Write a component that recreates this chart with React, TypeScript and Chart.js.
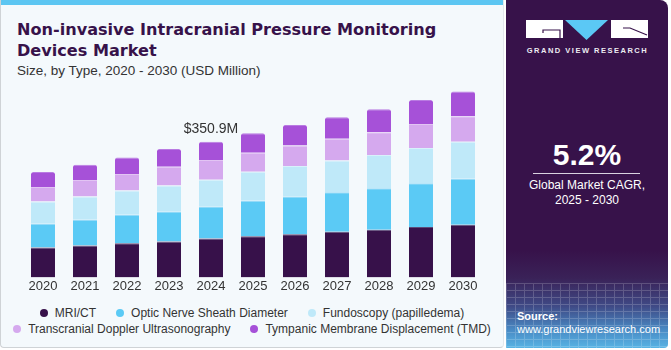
import React, { useEffect, useRef } from "react";
import { Chart, registerables } from "chart.js";

Chart.register(...registerables);

const years = ["2020", "2021", "2022", "2023", "2024", "2025", "2026", "2027", "2028", "2029", "2030"];
const seriesNames = [
  "MRI/CT",
  "Optic Nerve Sheath Diameter",
  "Fundoscopy (papilledema)",
  "Transcranial Doppler Ultrasonography",
  "Tympanic Membrane Displacement (TMD)",
];
const mriCt = [77.2, 82.4, 88.3, 92.7, 100.4, 106.3, 111.5, 118.4, 123.6, 130.3, 136.4];
const opticNerve = [61.8, 66.9, 73.9, 78.0, 83.2, 91.9, 97.8, 102.0, 107.4, 113.3, 119.2];
const fundoscopy = [57.4, 60.0, 62.6, 66.9, 69.5, 75.4, 79.0, 82.4, 85.7, 91.1, 95.3];
const transcranial = [37.8, 43.0, 43.0, 48.9, 50.7, 48.9, 53.0, 55.9, 59.2, 62.6, 66.2];
const tympanic = [38.6, 39.4, 42.7, 45.6, 47.1, 50.7, 53.3, 55.9, 59.2, 61.8, 64.4];
const seriesColors = ["#37114a", "#5bcaf5", "#bfe9f9", "#d5a9ee", "#a651d8"];
const edgeColors = ["#5a4a78", "#8fd8f7", "#d8f2fb", "#e2c4f3", "#b97be2"];
const annotationYear = "2024";
const annotationLabel = "$350.9M";
const cagrValue = "5.2%";

const FONT = "'Liberation Sans', Arial, sans-serif";

const annotationPlugin = {
  id: "annot",
  afterDatasetsDraw(chart: any) {
    const idx = years.indexOf(annotationYear);
    const meta = chart.getDatasetMeta(chart.data.datasets.length - 1);
    const el = meta.data[idx];
    if (!el) return;
    const ctx = chart.ctx;
    ctx.save();
    ctx.font = `14px ${FONT}`;
    ctx.fillStyle = "#333333";
    ctx.textAlign = "center";
    ctx.textBaseline = "alphabetic";
    ctx.fillText(annotationLabel, el.x, el.y - 9);
    ctx.restore();
  },
};

function BarChart() {
  const ref = useRef<HTMLCanvasElement>(null);
  useEffect(() => {
    const values = [mriCt, opticNerve, fundoscopy, transcranial, tympanic];
    const chart = new Chart(ref.current as HTMLCanvasElement, {
      type: "bar",
      data: {
        labels: years,
        datasets: values.map((d, i) => ({
          label: seriesNames[i],
          data: d,
          backgroundColor: seriesColors[i],
          borderColor: edgeColors[i],
          borderWidth: { top: 1, left: 0, right: 0, bottom: 0 },
          borderSkipped: false,
          borderRadius: i === values.length - 1 ? { topLeft: 2, topRight: 2, bottomLeft: 0, bottomRight: 0 } : 0,
          categoryPercentage: 1,
          barPercentage: 0.5714,
        })),
      },
      options: {
        animation: false,
        responsive: false,
        maintainAspectRatio: false,
        layout: { padding: { left: 22, right: 16, top: 0, bottom: 5 } },
        plugins: {
          legend: { display: false },
          tooltip: { enabled: false },
        },
        scales: {
          x: {
            stacked: true,
            grid: { display: false, drawTicks: false },
            border: { display: false },
            ticks: { color: "#333333", font: { family: FONT, size: 13 }, padding: 1 },
          },
          y: {
            stacked: true,
            display: false,
            min: 0,
            max: 511,
          },
        },
      },
      plugins: [annotationPlugin],
    });
    return () => chart.destroy();
  }, []);
  return (
    <canvas
      ref={ref}
      width={500}
      height={220}
      style={{ position: "absolute", left: 0, top: 80, width: 500, height: 220 }}
    />
  );
}

function Legend() {
  const rows = [[0, 1, 2], [3, 4]];
  return (
    <div style={{ position: "absolute", left: 0, top: 305, width: 504 }}>
      {rows.map((r, ri) => (
        <div
          key={ri}
          style={{ display: "flex", justifyContent: "center", height: 16, alignItems: "center" }}
        >
          {r.map((i) => (
            <div key={i} style={{ display: "flex", alignItems: "center", marginLeft: 10, marginRight: 10 }}>
              <span
                style={{
                  display: "inline-block",
                  width: 8,
                  height: 8,
                  borderRadius: 4,
                  background: seriesColors[i],
                  marginRight: 7,
                }}
              />
              <span style={{ font: `12px/16px ${FONT}`, color: "#333333", whiteSpace: "nowrap" }}>
                {seriesNames[i]}
              </span>
            </div>
          ))}
        </div>
      ))}
    </div>
  );
}

function Logo() {
  return (
    <svg width={671} height={70} style={{ position: "absolute", left: 0, top: 0 }}>
      <rect x={526} y={20} width={37} height={18} fill="#ffffff" />
      <polyline points="543,33 543,30 560,30 560,38" fill="none" stroke="#37124a" strokeWidth={1.2} />
      <polygon points="565,20 608,20 586.5,40" fill="#5bc8f5" />
      <rect x={611} y={20} width={37} height={18} fill="#ffffff" />
      <polyline points="623,28 630,28 647,35" fill="none" stroke="#37124a" strokeWidth={1.2} />
      <text
        x={587.5}
        y={53}
        textAnchor="middle"
        fill="#ececf2"
        style={{ font: `bold 7.5px ${FONT}`, letterSpacing: "1.5px" }}
      >
        GRAND VIEW RESEARCH
      </text>
    </svg>
  );
}

export default function App() {
  return (
    <div
      style={{
        position: "absolute",
        left: 0,
        top: 0,
        width: 671,
        height: 350,
        background: "#ffffff",
        overflow: "hidden",
      }}
    >
      <div
        style={{
          position: "absolute",
          left: 0,
          top: 0,
          width: 502,
          height: 347,
          background: "#f4f9fc",
          borderLeft: "1px solid #cfd3d6",
          borderBottom: "1px solid #cfd3d6",
          borderRight: "1px solid #e3e8ec",
          borderRadius: "0 0 4px 4px",
          overflow: "hidden",
        }}
      >
        <div style={{ position: "absolute", left: 0, top: 0, width: "100%", height: 5, background: "#5cc6f2" }} />
      </div>
      <div
        style={{
          position: "absolute",
          left: 17,
          top: 19,
          font: `bold 16.1px/21px 'DejaVu Sans', sans-serif`,
          color: "#37124a",
          whiteSpace: "nowrap",
        }}
      >
        Non-invasive Intracranial Pressure Monitoring
        <br />
        Devices Market
      </div>
      <div
        style={{
          position: "absolute",
          left: 17,
          top: 62.6,
          font: `13.5px/16px ${FONT}`,
          color: "#333333",
          whiteSpace: "nowrap",
        }}
      >
        Size, by Type, 2020 - 2030 (USD Million)
      </div>
      <BarChart />
      <Legend />
      <div
        style={{
          position: "absolute",
          left: 506,
          top: 0,
          width: 162,
          height: 348,
          borderRadius: "0 8px 4px 0",
          background:
            "linear-gradient(180deg, #37124a 0%, #37124a 72%, #3a2258 80%, #3f4a86 88%, #4a8cc6 95%, #58b4e4 100%)",
        }}
      />
      <div
        style={{
          position: "absolute",
          left: 506,
          top: 283,
          width: 162,
          height: 65,
          borderRadius: "0 0 4px 0",
          opacity: 0.18,
          backgroundImage:
            "repeating-linear-gradient(90deg, #ffffff 0px, #ffffff 1px, transparent 1px, transparent 9px), repeating-linear-gradient(180deg, #ffffff 0px, #ffffff 1px, transparent 1px, transparent 7px)",
        }}
      />
      <Logo />
      <div
        style={{
          position: "absolute",
          left: 506,
          width: 162,
          top: 140.3,
          textAlign: "center",
          font: `bold 30px/30px ${FONT}`,
          color: "#ffffff",
        }}
      >
        {cagrValue}
      </div>
      <div style={{ position: "absolute", left: 533, top: 173, width: 107, height: 1, background: "#d9d2e0" }} />
      <div
        style={{
          position: "absolute",
          left: 506,
          width: 162,
          top: 177.6,
          textAlign: "center",
          font: `12px/15px ${FONT}`,
          color: "#ffffff",
        }}
      >
        Global Market CAGR,
        <br />
        2025 - 2030
      </div>
      <div
        style={{
          position: "absolute",
          left: 517,
          top: 309.7,
          font: `11px/13px ${FONT}`,
          color: "#ffffff",
          whiteSpace: "nowrap",
        }}
      >
        <b>Source:</b>
        <br />
        www.grandviewresearch.com
      </div>
    </div>
  );
}
